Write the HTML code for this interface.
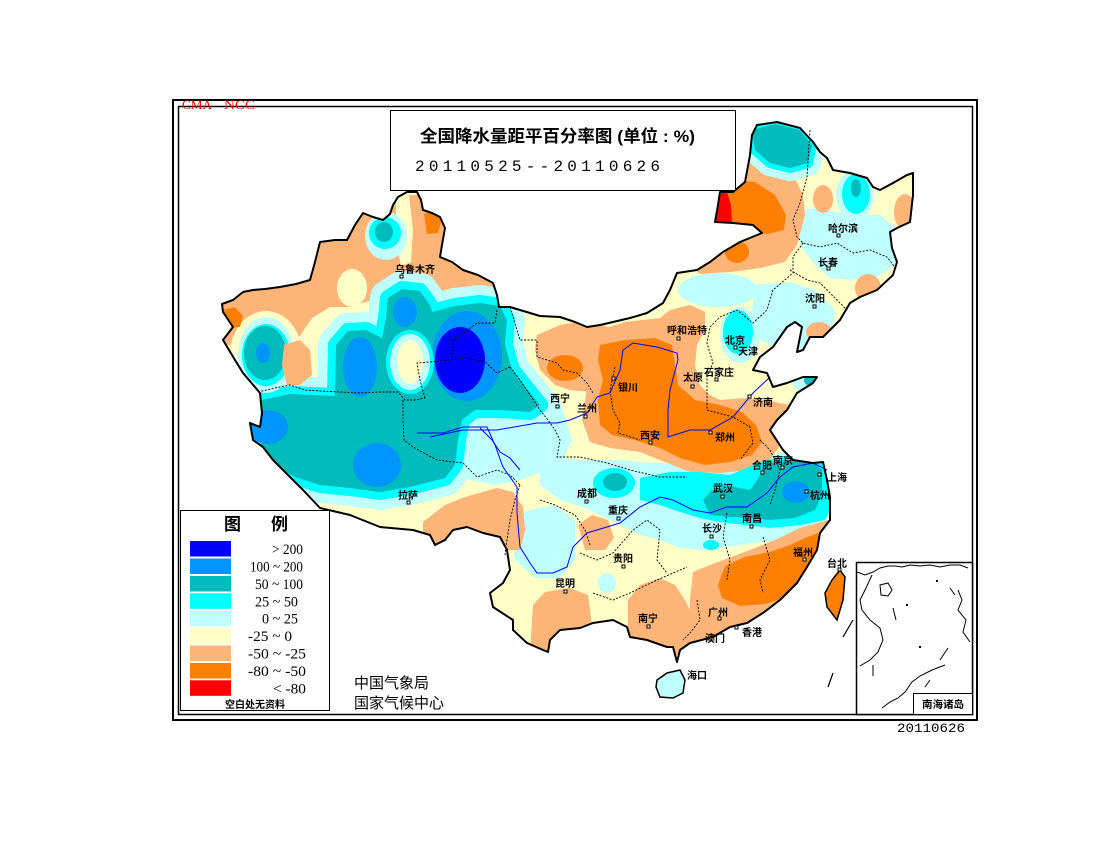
<!DOCTYPE html>
<html><head><meta charset="utf-8"><style>
html,body{margin:0;padding:0;background:#fff;}
svg{display:block}
</style></head><body>
<svg width="1100" height="850" viewBox="0 0 1100 850" xmlns="http://www.w3.org/2000/svg">
<defs>
<clipPath id="cn">
<path d="M222,304 L233,300 L243,292 L253,290 L265,289 L280,287 L296,284 L310,280 L315,262 L320,242 L335,240 L347,240 L355,225 L363,213 L373,217 L383,220 L390,214 L393,205 L398,197 L407,192 L417,192 L421,200 L423,210 L432,213 L440,217 L445,228 L442,245 L440,257 L452,262 L463,270 L478,275 L493,283 L497,295 L499,307 L510,307 L520,310 L540,316 L560,317 L575,322 L587,327 L600,325 L613,322 L630,318 L647,313 L663,303 L670,290 L677,273 L697,270 L710,262 L723,252 L740,242 L762,233 L753,225 L733,223 L715,222 L718,205 L720,192 L733,192 L745,182 L750,155 L752,135 L757,125 L777,122 L800,128 L813,142 L820,152 L827,158 L833,170 L850,173 L867,178 L873,187 L880,190 L893,183 L907,175 L913,173 L913,195 L910,222 L897,228 L890,232 L892,248 L897,262 L893,275 L877,290 L860,297 L850,303 L840,320 L823,337 L810,337 L803,350 L797,352 L800,337 L802,327 L795,322 L787,327 L773,347 L760,357 L753,370 L767,373 L773,387 L787,383 L803,377 L817,377 L813,383 L797,393 L787,410 L777,420 L770,430 L783,450 L793,460 L813,463 L823,462 L827,480 L830,497 L830,520 L820,533 L817,550 L807,567 L797,583 L780,600 L763,613 L747,623 L730,627 L713,637 L690,643 L680,650 L677,662 L673,647 L667,647 L647,640 L630,637 L627,627 L613,620 L593,623 L580,628 L560,630 L550,640 L548,652 L543,650 L527,643 L513,630 L513,620 L493,607 L490,593 L503,583 L510,570 L507,550 L500,537 L483,533 L467,527 L453,530 L445,540 L435,545 L430,535 L413,530 L380,527 L350,515 L320,508 L303,490 L290,477 L273,460 L263,447 L253,440 L250,423 L260,427 L262,413 L260,393 L243,373 L235,360 L223,340 L233,327 L223,312 Z"/>
</clipPath>
<path id="mA" d="M262,400 L290,394 L335,396 L336,345 L348,331 L366,330 L382,338 L386,318 L388,298 L402,289 L420,291 L430,305 L432,312 L455,306 L480,303 L500,306 L507,320 L505,345 L512,370 L528,390 L540,405 L530,412 L500,410 L475,410 L462,420 L458,440 L455,465 L445,478 L410,487 L380,492 L350,488 L320,485 L295,477 L275,465 L262,450 L257,425 Z"/>
<path id="mNE" d="M752,130 L775,124 L800,130 L812,145 L808,163 L790,168 L770,163 L755,150 Z"/>
<path id="mE" d="M703,500 L712,490 L730,486 L750,490 L757,480 L765,465 L785,460 L810,460 L822,470 L822,495 L815,510 L795,518 L770,520 L750,518 L730,517 L710,515 Z"/>
</defs>

<rect x="173" y="100" width="804" height="620" fill="none" stroke="#000" stroke-width="2"/>
<rect x="178.5" y="106.5" width="794" height="608" fill="none" stroke="#000" stroke-width="1.5"/>

<g clip-path="url(#cn)">
<rect x="200" y="100" width="740" height="600" fill="#FFFFC8"/>
<path fill="#C0FFFF" d="M455,420 L520,410 L560,400 L572,440 L560,465 L520,480 L495,485 L470,480 L455,470 Z"/>
<path fill="#C0FFFF" d="M540,455 L580,460 L620,460 L650,463 L700,463 L740,465 L765,458 L790,450 L815,452 L828,462 L835,500 L825,525 L800,532 L790,540 L760,542 L740,545 L720,548 L700,550 L680,548 L660,540 L640,535 L620,525 L600,515 L585,508 L560,500 L540,485 Z"/>
<path fill="#C0FFFF" d="M510,520 L530,510 L555,505 L575,520 L575,560 L560,578 L535,578 L515,560 Z"/>
<path fill="#C0FFFF" d="M795,210 L820,208 L850,215 L880,215 L898,230 L895,265 L875,278 L850,280 L830,278 L815,265 L800,245 Z"/>
<path fill="#C0FFFF" d="M755,285 L790,282 L815,290 L835,310 L830,340 L810,350 L780,350 L760,340 L752,310 Z"/>
<ellipse cx="718" cy="290" rx="40" ry="17" fill="#C0FFFF"/>
<path fill="#FFB478" d="M215,300 L250,288 L300,280 L315,255 L320,238 L360,210 L395,195 L420,195 L445,220 L450,255 L470,268 L500,290 L510,305 L495,312 L470,302 L450,297 L420,287 L400,285 L385,284 L372,300 L350,307 L330,307 L312,318 L300,336 L285,338 L270,322 L250,316 L240,330 L232,345 L215,345 Z"/>
<path fill="#FFFFC8" d="M396,195 L409,195 L413,230 L411,262 L401,266 L396,240 Z"/>
<ellipse cx="352" cy="288" rx="15" ry="19" fill="#FFFFC8"/>
<ellipse cx="266" cy="355" rx="36" ry="44" fill="#FFFFC8"/>
<path fill="#FF8000" d="M424,214 L436,212 L441,222 L438,233 L427,234 Z"/>
<path fill="#FF8000" d="M222,310 L235,307 L243,316 L240,327 L228,328 Z"/>
<path fill="#FFB478" d="M423,522 L445,505 L465,497 L497,488 L513,492 L523,507 L525,530 L520,550 L423,550 Z"/>
<path fill="#FFB478" d="M537,335 L560,325 L590,320 L615,330 L618,360 L610,385 L590,392 L570,390 L555,385 L540,370 L535,350 Z"/>
<ellipse cx="565" cy="368" rx="18" ry="13" fill="#FF8000"/>
<path fill="#FFB478" d="M585,345 L600,330 L625,322 L660,318 L670,310 L690,305 L705,312 L705,330 L697,345 L695,365 L700,385 L710,395 L720,400 L745,398 L765,400 L790,405 L800,420 L795,435 L780,445 L770,460 L750,470 L720,473 L690,472 L665,462 L640,452 L610,448 L590,442 L582,420 L586,395 L590,375 L582,360 Z"/>
<path fill="#FF8000" d="M600,345 L625,340 L655,338 L672,345 L675,365 L678,385 L695,400 L720,405 L742,412 L756,425 L762,442 L752,455 L730,462 L705,465 L680,458 L660,448 L635,440 L612,435 L600,425 L598,400 L603,380 L598,360 Z"/>
<path fill="#FFB478" d="M713,225 L718,190 L745,160 L770,158 L790,168 L803,195 L805,215 L797,245 L785,262 L760,268 L730,272 L700,274 L690,265 L700,240 Z"/>
<path fill="#FF8000" d="M715,222 L722,195 L733,180 L755,182 L775,195 L786,215 L784,230 L768,234 L750,232 L732,226 Z"/>
<ellipse cx="737" cy="252" rx="12" ry="11" fill="#FF8000"/>
<path fill="#FF0000" d="M714,223 L718,200 L721,192 L727,192 L731,205 L732,223 L720,225 Z"/>
<ellipse cx="823" cy="199" rx="10" ry="14" fill="#FFB478"/>
<ellipse cx="905" cy="212" rx="11" ry="18" fill="#FFB478"/>
<ellipse cx="868" cy="288" rx="13" ry="14" fill="#FFB478"/>
<ellipse cx="819" cy="332" rx="13" ry="10" fill="#FFB478"/>
<path fill="#FFB478" d="M533,605 L545,592 L570,588 L588,595 L592,625 L590,655 L530,655 Z"/>
<path fill="#FFB478" d="M628,600 L640,585 L660,578 L675,585 L685,600 L695,620 L700,655 L628,655 Z"/>
<path fill="#FFB478" d="M693,572 L715,563 L745,552 L775,540 L800,528 L828,520 L835,560 L820,620 L760,655 L690,655 L690,600 Z"/>
<path fill="#FF8000" d="M718,585 L725,566 L745,557 L770,552 L790,545 L805,538 L818,533 L822,547 L812,567 L800,586 L785,598 L765,604 L740,606 L722,598 Z"/>
<path fill="#FFB478" d="M578,525 L592,515 L608,520 L614,538 L605,550 L585,550 Z"/>
<use href="#mA" fill="#C0FFFF" stroke="#C0FFFF" stroke-width="36" stroke-linejoin="round"/>
<use href="#mA" fill="#00FFFF" stroke="#00FFFF" stroke-width="16" stroke-linejoin="round"/>
<use href="#mA" fill="#00BBBB"/>
<ellipse cx="405" cy="312" rx="12" ry="15" fill="#0096FF"/>
<ellipse cx="360" cy="367" rx="17" ry="30" fill="#0096FF"/>
<ellipse cx="467" cy="356" rx="35" ry="45" fill="#0096FF"/>
<ellipse cx="460" cy="360" rx="25" ry="33" fill="#0000FF"/>
<ellipse cx="268" cy="427" rx="20" ry="17" fill="#0096FF"/>
<ellipse cx="377" cy="465" rx="24" ry="22" fill="#0096FF"/>
<ellipse cx="410" cy="362" rx="24" ry="32" fill="#00FFFF"/>
<ellipse cx="410" cy="362" rx="20" ry="28" fill="#C0FFFF"/>
<ellipse cx="410" cy="362" rx="13" ry="22" fill="#FFFFC8"/>
<ellipse cx="266" cy="355" rx="28" ry="38" fill="#C0FFFF"/>
<ellipse cx="266" cy="355" rx="24" ry="31" fill="#00FFFF"/>
<ellipse cx="265" cy="353" rx="21" ry="27" fill="#00BBBB"/>
<ellipse cx="263" cy="353" rx="7" ry="10" fill="#0096FF"/>
<path fill="#FFB478" d="M284,345 L300,340 L310,350 L312,375 L300,385 L287,385 L282,365 Z"/>
<ellipse cx="386" cy="236" rx="21" ry="24" fill="#C0FFFF"/>
<ellipse cx="385" cy="233" rx="16" ry="16" fill="#00FFFF"/>
<ellipse cx="384" cy="232" rx="9" ry="10" fill="#00BBBB"/>
<ellipse cx="614" cy="483" rx="21" ry="15" fill="#00FFFF"/>
<ellipse cx="615" cy="482" rx="12" ry="9" fill="#00BBBB"/>
<path fill="#00FFFF" d="M640,478 L670,472 L700,472 L730,475 L760,462 L790,455 L815,455 L830,462 L835,500 L825,520 L800,525 L770,528 L745,525 L720,522 L700,518 L680,512 L660,505 L640,500 Z"/>
<use href="#mE" fill="#00BBBB"/>
<ellipse cx="796" cy="492" rx="14" ry="11" fill="#0096FF"/>
<ellipse cx="711" cy="545" rx="8" ry="5" fill="#00FFFF"/>
<ellipse cx="607" cy="583" rx="9" ry="10" fill="#C0FFFF"/>
<ellipse cx="740" cy="335" rx="20" ry="28" fill="#C0FFFF"/>
<ellipse cx="738" cy="332" rx="15" ry="22" fill="#00FFFF"/>
<use href="#mNE" fill="#C0FFFF" stroke="#C0FFFF" stroke-width="26" stroke-linejoin="round"/>
<use href="#mNE" fill="#00FFFF" stroke="#00FFFF" stroke-width="10" stroke-linejoin="round"/>
<use href="#mNE" fill="#00BBBB"/>
<ellipse cx="855" cy="195" rx="19" ry="25" fill="#C0FFFF"/>
<ellipse cx="856" cy="194" rx="14" ry="20" fill="#00FFFF"/>
<ellipse cx="856" cy="188" rx="5" ry="9" fill="#00BBBB"/>
<ellipse cx="805" cy="382" rx="13" ry="9" fill="#C0FFFF"/>
<ellipse cx="811" cy="380" rx="7" ry="6" fill="#00BBBB"/>
</g>

<path d="M657,680 L667,673 L680,670 L685,680 L683,693 L673,698 L660,697 L656,687 Z" fill="#C0FFFF" stroke="#000" stroke-width="1.5"/>
<path d="M840,570 L845,577 L843,600 L837,620 L827,607 L825,593 L832,580 Z" fill="#FF8000" stroke="#000" stroke-width="1.5"/>

<g fill="none" stroke="#000" stroke-width="0.9" stroke-dasharray="2,1.5">
<polyline points="258,392 275,388 290,385 305,390 320,391 340,392 360,393 380,392 398,392 405,400 415,400 425,398"/>
<polyline points="425,398 420,380 417,363 430,362 450,360 465,358 485,362 497,373 510,367"/>
<polyline points="497,310 495,323 477,323 468,330 453,340 453,360"/>
<polyline points="403,400 403,420 404,440 413,447 437,460 463,463 477,477 497,470 510,475 520,485"/>
<polyline points="510,367 520,380 530,395 540,410 548,420 555,430 560,440 557,457 580,457 607,463 630,470 660,477 687,477"/>
<polyline points="520,485 515,500 510,520 507,540 505,555"/>
<polyline points="510,307 520,340 537,340 537,357 557,363 563,370 577,373 587,383 593,393"/>
<polyline points="615,367 610,390 613,410 620,423 618,433 640,440"/>
<polyline points="810,130 807,177 800,203 793,220 797,237 803,243 820,247 837,243 853,253 870,250 887,257 897,270"/>
<polyline points="790,270 807,280 820,283 837,300 847,310"/>
<polyline points="803,243 793,257 793,273 773,290 767,310 753,323 737,310 720,317 710,327 707,343 713,363 707,377 707,410 733,417 750,427 753,443 740,460"/>
<polyline points="580,553 597,560 613,553 633,530 647,520 660,530 657,560 667,573"/>
<polyline points="593,593 613,600 630,593 657,580 673,573 687,567"/>
<polyline points="727,513 723,537 730,560 727,580"/>
<polyline points="763,537 770,560 760,580 763,593"/>
<polyline points="697,600 700,620 690,633 683,640"/>
<polyline points="760,440 770,450 780,470 775,490 770,505"/>
<polyline points="540,500 555,505 575,515 585,530 590,545"/>
</g>

<g fill="none" stroke="#0000FF" stroke-width="1">
<polyline points="430,437 463,430 497,430 537,423 557,423 570,420 587,413 597,397 610,393 620,370 623,350 633,343 657,347 677,353 678,360 670,390 668,410 668,437 690,430 710,430 733,417 753,393 770,377"/>
<polyline points="417,433 443,433 463,427 487,427 495,445 503,467 517,487 517,513 520,547 530,563 537,573 553,573 567,567 573,547 587,533 607,527 620,523 640,507 660,497 673,500 693,510 710,513 727,507 747,507 767,493 780,477 793,467 813,463 827,470"/>
<polyline points="480,428 492,440 500,452 510,458 520,470"/>
</g>

<path fill="none" stroke="#000" stroke-width="2" stroke-linejoin="round" d="M222,304 L233,300 L243,292 L253,290 L265,289 L280,287 L296,284 L310,280 L315,262 L320,242 L335,240 L347,240 L355,225 L363,213 L373,217 L383,220 L390,214 L393,205 L398,197 L407,192 L417,192 L421,200 L423,210 L432,213 L440,217 L445,228 L442,245 L440,257 L452,262 L463,270 L478,275 L493,283 L497,295 L499,307 L510,307 L520,310 L540,316 L560,317 L575,322 L587,327 L600,325 L613,322 L630,318 L647,313 L663,303 L670,290 L677,273 L697,270 L710,262 L723,252 L740,242 L762,233 L753,225 L733,223 L715,222 L718,205 L720,192 L733,192 L745,182 L750,155 L752,135 L757,125 L777,122 L800,128 L813,142 L820,152 L827,158 L833,170 L850,173 L867,178 L873,187 L880,190 L893,183 L907,175 L913,173 L913,195 L910,222 L897,228 L890,232 L892,248 L897,262 L893,275 L877,290 L860,297 L850,303 L840,320 L823,337 L810,337 L803,350 L797,352 L800,337 L802,327 L795,322 L787,327 L773,347 L760,357 L753,370 L767,373 L773,387 L787,383 L803,377 L817,377 L813,383 L797,393 L787,410 L777,420 L770,430 L783,450 L793,460 L813,463 L823,462 L827,480 L830,497 L830,520 L820,533 L817,550 L807,567 L797,583 L780,600 L763,613 L747,623 L730,627 L713,637 L690,643 L680,650 L677,662 L673,647 L667,647 L647,640 L630,637 L627,627 L613,620 L593,623 L580,628 L560,630 L550,640 L548,652 L543,650 L527,643 L513,630 L513,620 L493,607 L490,593 L503,583 L510,570 L507,550 L500,537 L483,533 L467,527 L453,530 L445,540 L435,545 L430,535 L413,530 L380,527 L350,515 L320,508 L303,490 L290,477 L273,460 L263,447 L253,440 L250,423 L260,427 L262,413 L260,393 L243,373 L235,360 L223,340 L233,327 L223,312 Z"/>

<g stroke="#000" stroke-width="1.2">
<line x1="853" y1="620" x2="843" y2="637"/>
<line x1="833" y1="673" x2="828" y2="687"/>
</g>

<g font-family="'Liberation Sans','Noto Sans CJK SC',sans-serif" font-size="10" font-weight="bold" fill="#000">
<text x="395" y="273">乌鲁木齐</text>
<text x="398" y="499">拉萨</text>
<text x="550" y="402">西宁</text>
<text x="577" y="412">兰州</text>
<text x="618" y="391">银川</text>
<text x="667" y="334">呼和浩特</text>
<text x="683" y="381">太原</text>
<text x="704" y="376">石家庄</text>
<text x="725" y="344">北京</text>
<text x="738" y="355">天津</text>
<text x="753" y="406">济南</text>
<text x="640" y="439">西安</text>
<text x="715" y="441">郑州</text>
<text x="805" y="302">沈阳</text>
<text x="818" y="266">长春</text>
<text x="828" y="232">哈尔滨</text>
<text x="752" y="469">合肥</text>
<text x="773" y="464">南京</text>
<text x="827" y="481">上海</text>
<text x="810" y="499">杭州</text>
<text x="713" y="492">武汉</text>
<text x="742" y="522">南昌</text>
<text x="702" y="532">长沙</text>
<text x="793" y="556">福州</text>
<text x="827" y="567">台北</text>
<text x="577" y="497">成都</text>
<text x="608" y="514">重庆</text>
<text x="613" y="562">贵阳</text>
<text x="555" y="587">昆明</text>
<text x="638" y="622">南宁</text>
<text x="708" y="616">广州</text>
<text x="742" y="636">香港</text>
<text x="705" y="642">澳门</text>
<text x="687" y="679">海口</text>
</g>
<g fill="#fff" stroke="#000" stroke-width="1">
<rect x="400" y="275" width="3" height="3"/><rect x="407" y="501" width="3" height="3"/>
<rect x="556" y="405" width="3" height="3"/><rect x="584" y="415" width="3" height="3"/>
<rect x="612" y="377" width="3" height="3"/><rect x="677" y="337" width="3" height="3"/>
<rect x="691" y="385" width="3" height="3"/><rect x="715" y="378" width="3" height="3"/>
<rect x="734" y="346" width="3" height="3"/><rect x="748" y="395" width="3" height="3"/>
<rect x="649" y="441" width="3" height="3"/><rect x="709" y="431" width="3" height="3"/>
<rect x="813" y="305" width="3" height="3"/><rect x="827" y="267" width="3" height="3"/>
<rect x="837" y="234" width="3" height="3"/><rect x="761" y="471" width="3" height="3"/>
<rect x="781" y="466" width="3" height="3"/><rect x="818" y="473" width="3" height="3"/>
<rect x="805" y="490" width="3" height="3"/><rect x="721" y="495" width="3" height="3"/>
<rect x="750" y="525" width="3" height="3"/><rect x="710" y="535" width="3" height="3"/>
<rect x="803" y="558" width="3" height="3"/><rect x="838" y="568" width="3" height="3"/>
<rect x="585" y="500" width="3" height="3"/><rect x="617" y="517" width="3" height="3"/>
<rect x="622" y="565" width="3" height="3"/><rect x="564" y="590" width="3" height="3"/>
<rect x="647" y="625" width="3" height="3"/><rect x="718" y="617" width="3" height="3"/>
<rect x="735" y="626" width="3" height="3"/>
</g>

<rect x="390.5" y="110.5" width="345" height="80" fill="#fff" stroke="#000" stroke-width="1"/>
<text x="420" y="142" font-family="'Liberation Sans','Noto Sans CJK SC',sans-serif" font-size="17" font-weight="bold" textLength="275" lengthAdjust="spacingAndGlyphs">全国降水量距平百分率图 (单位 : %)</text>
<text x="415" y="171" font-family="'Liberation Mono',monospace" font-size="16" textLength="245" lengthAdjust="spacing">20110525--20110626</text>

<text x="182" y="109" font-family="'Liberation Serif',serif" font-size="13" fill="#FF0000" textLength="30" lengthAdjust="spacingAndGlyphs">CMA</text>
<text x="224" y="109" font-family="'Liberation Serif',serif" font-size="13" fill="#FF0000" textLength="31" lengthAdjust="spacingAndGlyphs">NCC</text>

<rect x="180.5" y="510.5" width="149" height="200" fill="#fff" stroke="#000" stroke-width="1"/>
<text x="224" y="530" font-family="'Liberation Sans','Noto Sans CJK SC',sans-serif" font-size="17" font-weight="bold">图</text>
<text x="271" y="530" font-family="'Liberation Sans','Noto Sans CJK SC',sans-serif" font-size="17" font-weight="bold">例</text>
<rect x="190" y="541" width="41" height="15.5" fill="#0000FF"/>
<rect x="190" y="558.5" width="41" height="15.5" fill="#0096FF"/>
<rect x="190" y="576" width="41" height="15.5" fill="#00BBBB"/>
<rect x="190" y="593.3" width="41" height="15.5" fill="#00FFFF"/>
<rect x="190" y="610.7" width="41" height="15.5" fill="#C0FFFF"/>
<rect x="190" y="628" width="41" height="15.5" fill="#FFFFC8"/>
<rect x="190" y="645.5" width="41" height="15.5" fill="#FFB478"/>
<rect x="190" y="663" width="41" height="15.5" fill="#FF8000"/>
<rect x="190" y="680.3" width="41" height="15.5" fill="#FF0000"/>
<g font-family="'Liberation Serif',serif" font-size="15" fill="#000">
<text x="272" y="554" textLength="31" lengthAdjust="spacingAndGlyphs">&gt; 200</text>
<text x="250" y="571.5" textLength="53" lengthAdjust="spacingAndGlyphs">100 ~ 200</text>
<text x="255" y="589" textLength="48" lengthAdjust="spacingAndGlyphs">50 ~ 100</text>
<text x="255" y="606.3" textLength="43" lengthAdjust="spacingAndGlyphs">25 ~ 50</text>
<text x="262" y="623.7" textLength="36" lengthAdjust="spacingAndGlyphs">0 ~ 25</text>
<text x="248" y="641" textLength="44" lengthAdjust="spacingAndGlyphs">-25 ~ 0</text>
<text x="248" y="658.5" textLength="58" lengthAdjust="spacingAndGlyphs">-50 ~ -25</text>
<text x="248" y="676" textLength="58" lengthAdjust="spacingAndGlyphs">-80 ~ -50</text>
<text x="273" y="693.3" textLength="33" lengthAdjust="spacingAndGlyphs">&lt; -80</text>
</g>
<text x="225" y="708" font-family="'Liberation Sans','Noto Sans CJK SC',sans-serif" font-size="10" font-weight="bold" textLength="60" lengthAdjust="spacingAndGlyphs">空白处无资料</text>

<text x="354" y="688" font-family="'Liberation Sans','Noto Sans CJK SC',sans-serif" font-size="15">中国气象局</text>
<text x="354" y="708" font-family="'Liberation Sans','Noto Sans CJK SC',sans-serif" font-size="15">国家气候中心</text>

<rect x="856.5" y="562.5" width="116" height="152" fill="#fff" stroke="#000" stroke-width="1.5"/>
<g fill="none" stroke="#000" stroke-width="1">
<polyline points="857,572 865,575 873,572 880,568 888,566 895,566 902,567 910,565 920,566 930,565 940,567 950,565 960,565 968,568"/>
<path d="M880,585 L888,583 L892,590 L888,596 L881,595 Z"/>
<polyline points="872,575 866,588 860,600 862,610 870,620 880,628 883,640 878,652 870,660 860,666"/>
<polyline points="958,590 962,600 958,610 966,620 963,632 970,642"/>
<polyline points="882,708 890,702 898,698 905,692 912,682 920,676 932,670 945,665"/>
<line x1="893" y1="608" x2="896" y2="620"/>
<line x1="950" y1="588" x2="955" y2="595"/>
<line x1="948" y1="648" x2="940" y2="660"/>
<line x1="873" y1="665" x2="873" y2="676"/>
<line x1="930" y1="680" x2="925" y2="687"/>
</g>
<g fill="#000">
<rect x="936" y="580" width="2" height="2"/>
<rect x="906" y="604" width="2" height="2"/>
<rect x="919" y="646" width="2" height="2"/>
</g>
<rect x="913.5" y="693.5" width="59" height="21" fill="#fff" stroke="#000" stroke-width="1"/>
<text x="922" y="708" font-family="'Liberation Sans','Noto Sans CJK SC',sans-serif" font-size="10" font-weight="bold" textLength="42" lengthAdjust="spacingAndGlyphs">南海诸岛</text>

<text x="897" y="732" font-family="'Liberation Mono',monospace" font-size="13" textLength="68" lengthAdjust="spacingAndGlyphs">20110626</text>
</svg>
</body></html>
